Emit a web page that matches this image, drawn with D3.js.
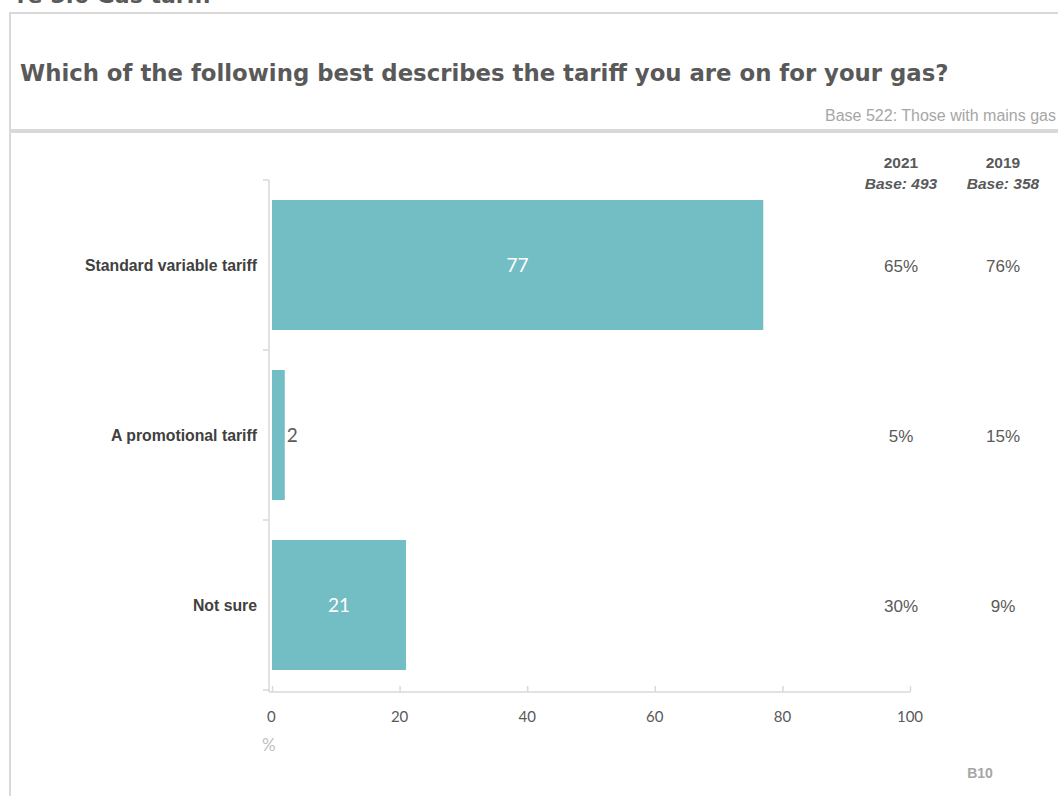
<!DOCTYPE html>
<html>
<head>
<meta charset="utf-8">
<script src="https://cdn.jsdelivr.net/npm/d3@7"></script>
<style>
  html, body { margin: 0; padding: 0; background: #ffffff; overflow: hidden; }
  svg { display: block; }
</style>
</head>
<body>
<svg id="chart" width="1058" height="796"></svg>
<script>
// Survey answers and shares (%)
const categories = ["Standard variable tariff", "A promotional tariff", "Not sure"];
const values2023 = [77, 2, 21];
const values2021 = ["65%", "5%", "30%"];
const values2019 = ["76%", "15%", "9%"];
const compareYears = ["2021", "2019"];
const compareBases = ["Base: 493", "Base: 358"];
const xTicks = [0, 20, 40, 60, 80, 100];

const svg = d3.select("#chart");
const grey = "#595959";
const lineGrey = "#d9d9d9";

// Section heading, partly above the page edge
svg.append("text")
  .attr("x", 212).attr("y", 3)
  .attr("text-anchor", "end")
  .attr("font-family", "DejaVu Sans, Verdana, sans-serif")
  .attr("font-weight", "bold").attr("font-size", 22)
  .attr("fill", grey)
  .text("re 5.6 Gas tariff");

// Panel frame
svg.append("path")
  .attr("d", "M1060,13 H10 V800")
  .attr("fill", "none").attr("stroke", lineGrey).attr("stroke-width", 2);

// Question title
svg.append("text")
  .attr("x", 20).attr("y", 81)
  .attr("font-family", "DejaVu Sans, Verdana, sans-serif")
  .attr("font-weight", "bold").attr("font-size", 22.8)
  .attr("fill", grey)
  .text("Which of the following best describes the tariff you are on for your gas?");

svg.append("text")
  .attr("x", 1056).attr("y", 121)
  .attr("text-anchor", "end")
  .attr("font-family", "Liberation Sans, Arial, sans-serif")
  .attr("font-size", 16).attr("fill", "#a6a6a6")
  .text("Base 522: Those with mains gas");

svg.append("line")
  .attr("x1", 10).attr("x2", 1058).attr("y1", 131).attr("y2", 131)
  .attr("stroke", lineGrey).attr("stroke-width", 4);

// Scales
const x = d3.scaleLinear().domain([0, 100]).range([272, 910]);
const y = d3.scaleBand().domain(categories).range([180, 690]).paddingInner(0.235).paddingOuter(0.1175);

// Category axis (ticks at band boundaries)
const bandEdges = [180, 350, 520, 690];
svg.append("line")
  .attr("x1", 269).attr("x2", 269).attr("y1", 180).attr("y2", 692)
  .attr("stroke", lineGrey).attr("stroke-width", 1.5);
svg.selectAll(".ytick").data(bandEdges).join("line")
  .attr("x1", 263).attr("x2", 269)
  .attr("y1", d => d).attr("y2", d => d)
  .attr("stroke", lineGrey).attr("stroke-width", 1.5);

svg.selectAll(".cat").data(categories).join("text")
  .attr("x", 257)
  .attr("y", d => y(d) + y.bandwidth() / 2 + 6)
  .attr("text-anchor", "end")
  .attr("font-family", "Liberation Sans, Arial, sans-serif")
  .attr("font-weight", "bold").attr("font-size", 15.8)
  .attr("fill", "#404040")
  .text(d => d);

// Value axis
const xAxis = svg.append("g").attr("transform", "translate(0,692)")
  .call(d3.axisTop(x).tickValues(xTicks).tickSize(6).tickFormat(""));
xAxis.select(".domain").attr("d", `M${x(0) - 3},0H${x(100)}`).attr("stroke", lineGrey).attr("stroke-width", 1.5);
xAxis.selectAll(".tick line").attr("stroke", lineGrey).attr("stroke-width", 1.5);

svg.selectAll(".xlabel").data(xTicks).join("text")
  .attr("x", d => x(d))
  .attr("y", 722)
  .attr("text-anchor", d => d === 0 ? "start" : "middle")
  .attr("dx", d => d === 0 ? -5 : 0)
  .attr("font-family", "Lato, Open Sans, sans-serif")
  .attr("font-size", 15).attr("fill", grey)
  .text(d => d);

svg.append("text")
  .attr("x", 262).attr("y", 751)
  .attr("font-family", "Lato, Open Sans, sans-serif")
  .attr("font-size", 17).attr("fill", "#bfbfbf")
  .text("%");

// Bars
svg.selectAll(".bar").data(categories).join("rect")
  .attr("x", x(0))
  .attr("y", d => y(d))
  .attr("width", (d, i) => x(values2023[i]) - x(0))
  .attr("height", y.bandwidth())
  .attr("fill", "#72bec4");

// Bar labels: inside when wide, outside when narrow
svg.selectAll(".blabel").data(categories).join("text")
  .attr("x", (d, i) => {
    const w = x(values2023[i]) - x(0);
    return w > 40 ? x(0) + w / 2 : x(values2023[i]) + 2;
  })
  .attr("y", d => y(d) + y.bandwidth() / 2 + 7)
  .attr("text-anchor", (d, i) => (x(values2023[i]) - x(0)) > 40 ? "middle" : "start")
  .attr("font-family", "Lato, Open Sans, sans-serif")
  .attr("font-size", 19)
  .attr("fill", (d, i) => (x(values2023[i]) - x(0)) > 40 ? "#ffffff" : grey)
  .text((d, i) => values2023[i]);

// Comparison columns
const colX = [901, 1003];
const colVals = [values2021, values2019];
compareYears.forEach((yr, c) => {
  svg.append("text")
    .attr("x", colX[c]).attr("y", 168)
    .attr("text-anchor", "middle")
    .attr("font-family", "Liberation Sans, Arial, sans-serif")
    .attr("font-weight", "bold").attr("font-size", 15.5)
    .attr("fill", grey).text(yr);
  svg.append("text")
    .attr("x", colX[c]).attr("y", 189)
    .attr("text-anchor", "middle")
    .attr("font-family", "Liberation Sans, Arial, sans-serif")
    .attr("font-weight", "bold").attr("font-style", "italic").attr("font-size", 15.5)
    .attr("fill", grey).text(compareBases[c]);
  svg.selectAll(".col" + c).data(categories).join("text")
    .attr("x", colX[c])
    .attr("y", d => y(d) + y.bandwidth() / 2 + 7)
    .attr("text-anchor", "middle")
    .attr("font-family", "Liberation Sans, Arial, sans-serif")
    .attr("font-size", 17)
    .attr("fill", grey)
    .text((d, i) => colVals[c][i]);
});

// Slide reference
svg.append("text")
  .attr("x", 980).attr("y", 778)
  .attr("text-anchor", "middle")
  .attr("font-family", "Liberation Sans Narrow, Liberation Sans, Arial, sans-serif")
  .attr("font-weight", "bold")
  .attr("font-size", 14).attr("fill", "#a6a6a6")
  .text("B10");
</script>
</body>
</html>
